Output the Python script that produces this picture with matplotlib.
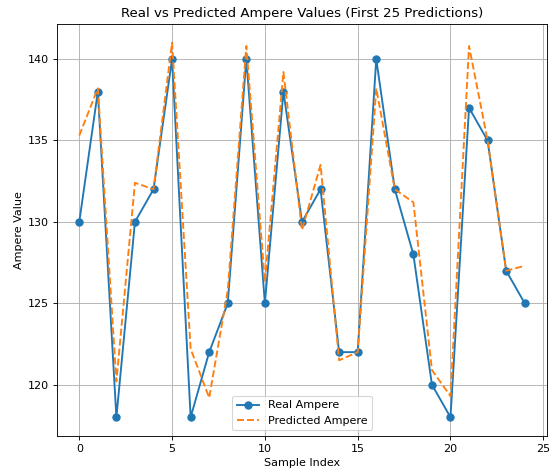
import matplotlib
matplotlib.use('Agg')
import numpy as np
import matplotlib.pyplot as plt

sample_idx = np.arange(25)
real_ampere = [130, 138, 118, 130, 132, 140, 118, 122, 125, 140,
               125, 138, 130, 132, 122, 122, 140, 132, 128, 120,
               118, 137, 135, 127, 125]
pred_ampere = [135.3, 138.2, 120.2, 132.4, 132.0, 141.0, 122.2, 119.2, 125.8, 140.8,
               126.3, 139.2, 129.5, 133.5, 121.5, 122.0, 138.2, 132.0, 131.2, 120.9,
               119.3, 140.8, 135.0, 127.0, 127.3]

DPI = 80
fig = plt.figure(figsize=(551/DPI, 473/DPI), dpi=DPI)
ax = fig.add_axes([57/551, 37/473, 490/551, 412/473])

ax.plot(sample_idx, real_ampere, marker='o', markersize=6.5, linewidth=1.7,
        label='Real Ampere')
ax.plot(sample_idx, pred_ampere, linestyle='--', linewidth=1.7,
        label='Predicted Ampere')

ax.set_title('Real vs Predicted Ampere Values (First 25 Predictions)')
ax.set_xlabel('Sample Index')
ax.set_ylabel('Ampere Value')
ax.legend(loc='lower center')
ax.grid(True)

fig.savefig('out.png', dpi=DPI)
